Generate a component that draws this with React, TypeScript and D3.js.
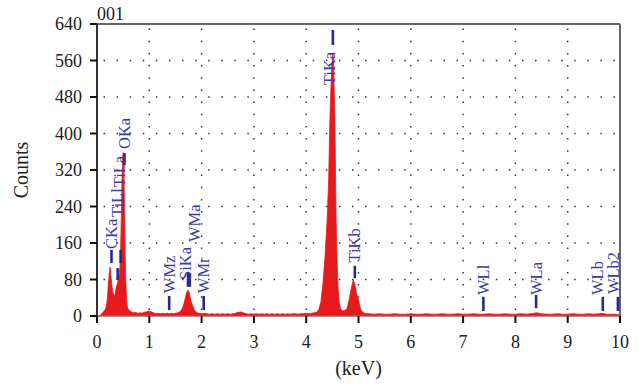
import React from 'react';
import * as d3 from 'd3';

// spectrum (keV, counts)
const energy = [
  0.0, 0.05, 0.07, 0.1, 0.12, 0.14, 0.16, 0.18, 0.2, 0.22, 0.24, 0.25, 0.26, 0.27, 0.28, 0.29,
  0.3, 0.31, 0.32, 0.33, 0.34, 0.35, 0.36, 0.37, 0.38, 0.39, 0.4, 0.41, 0.42, 0.43, 0.44, 0.45,
  0.46, 0.47, 0.48, 0.49, 0.5, 0.51, 0.52, 0.53, 0.54, 0.55, 0.56, 0.57, 0.58, 0.6, 0.62, 0.66,
  0.7, 0.74, 0.78, 0.82, 0.86, 0.9, 0.94, 0.98, 1.02, 1.06, 1.1, 1.14, 1.18, 1.22, 1.26, 1.3,
  1.34, 1.38, 1.42, 1.46, 1.5, 1.54, 1.58, 1.62, 1.65, 1.68, 1.71, 1.74, 1.76, 1.78, 1.8, 1.83,
  1.86, 1.89, 1.92, 1.96, 2.0, 2.05, 2.1, 2.15, 2.2, 2.25, 2.3, 2.35, 2.4, 2.45, 2.5, 2.55,
  2.6, 2.65, 2.7, 2.75, 2.8, 2.85, 2.9, 2.95, 3.0, 3.05, 3.1, 3.15, 3.2, 3.25, 3.3, 3.35,
  3.4, 3.45, 3.5, 3.55, 3.6, 3.65, 3.7, 3.75, 3.8, 3.85, 3.9, 3.95, 4.0, 4.05, 4.1, 4.15,
  4.2, 4.24, 4.28, 4.32, 4.36, 4.4, 4.43, 4.45, 4.47, 4.49, 4.51, 4.52, 4.53, 4.55, 4.57, 4.59,
  4.61, 4.63, 4.66, 4.7, 4.74, 4.78, 4.82, 4.86, 4.9, 4.93, 4.96, 5.0, 5.04, 5.08, 5.12, 5.2,
  5.3, 5.4, 5.5, 5.6, 5.7, 5.8, 5.9, 6.0, 6.1, 6.2, 6.3, 6.4, 6.5, 6.6, 6.7, 6.8,
  6.9, 7.0, 7.1, 7.2, 7.3, 7.4, 7.5, 7.6, 7.7, 7.8, 7.9, 8.0, 8.1, 8.2, 8.3, 8.35,
  8.4, 8.45, 8.5, 8.6, 8.7, 8.8, 8.9, 9.0, 9.1, 9.2, 9.3, 9.4, 9.5, 9.6, 9.65, 9.7,
  9.75, 9.8, 9.9, 10.0,
];
const counts = [
  0, 0, 3, 6, 9, 12, 15, 22, 40, 75, 100, 107, 104, 85, 70, 62,
  55, 50, 46, 44, 45, 50, 58, 64, 68, 72, 75, 80, 88, 95, 110, 140,
  190, 250, 310, 345, 358, 340, 280, 200, 130, 80, 50, 30, 20, 14, 12, 9,
  7, 8, 6, 7, 6, 8, 9, 11, 10, 8, 6, 5, 6, 5, 6, 5,
  6, 5, 6, 5, 6, 7, 9, 14, 22, 35, 50, 57, 52, 42, 32, 22,
  14, 9, 7, 6, 5, 6, 5, 4, 5, 4, 5, 4, 5, 4, 5, 4,
  5, 6, 8, 9, 7, 5, 4, 5, 4, 5, 4, 5, 4, 5, 4, 5,
  4, 5, 4, 5, 4, 5, 4, 5, 5, 4, 5, 5, 6, 5, 6, 7,
  8, 14, 30, 70, 130, 210, 300, 420, 490, 550, 575, 565, 520, 420, 220, 120,
  60, 30, 15, 11, 12, 16, 35, 60, 79, 70, 50, 35, 15, 8, 6, 5,
  4, 5, 4, 4, 5, 4, 4, 5, 4, 4, 5, 4, 4, 5, 4, 4,
  5, 4, 4, 5, 4, 4, 5, 4, 4, 5, 4, 4, 5, 4, 5, 6,
  7, 6, 5, 4, 4, 5, 4, 4, 5, 4, 4, 5, 4, 5, 6, 5,
  4, 4, 4, 3,
];

// line markers: name, energy, marker top/bottom (counts), label start (counts), label x shift (px)
const lineNames = ['CKa', 'TiLl', 'TiLa', 'OKa', 'WMz', 'SiKa', 'WMa', 'WMr', 'TiKa', 'TiKb', 'WLl', 'WLa', 'WLb', 'WLb2'];
const lineEnergy = [0.277, 0.395, 0.452, 0.525, 1.38, 1.74, 1.775, 2.04, 4.51, 4.93, 7.387, 8.396, 9.671, 9.96];
const markTop = [145, 105, 145, 357, 44, 94, 94, 44, 627, 110, 42, 46, 42, 42];
const markBottom = [116, 79, 116, 331, 13, 64, 64, 13, 594, 83, 11, 17, 11, 11];
const labelStart = [147, 217, 282, 366, 50, 79, 162, 50, 506, 117, 46, 46, 46, 48];
const labelShift = [0, 0, -1, 0, 0, -3, 5, 0, -3, 0, 0, 0, -5, -4];

const yTicks = [0, 80, 160, 240, 320, 400, 480, 560, 640];
const xTicks = [0, 1, 2, 3, 4, 5, 6, 7, 8, 9, 10];

const W = 639;
const H = 387;
const margin = { top: 24, right: 19, bottom: 71, left: 97 };
const font = '"Liberation Serif", "DejaVu Serif", serif';

export default function App() {
  const width = W - margin.left - margin.right;
  const height = H - margin.top - margin.bottom;

  const x = d3.scaleLinear().domain([0, 10]).range([0, width]);
  const y = d3.scaleLinear().domain([0, 640]).range([height, 0]);

  const pts = energy.map((e, i) => [e, counts[i]] as [number, number]);
  const area = d3
    .area<[number, number]>()
    .x(d => x(d[0]))
    .y0(y(0))
    .y1(d => y(d[1]));

  const hStep = x(0.25) - x(0);
  const vStep = y(0) - y(80 / 3);

  return (
    <div style={{ position: 'fixed', left: 0, top: 0 }}>
      <svg width={W} height={H} style={{ display: 'block', background: '#fff' }}>
        <g transform={`translate(${margin.left},${margin.top})`}>
          {/* dotted grid */}
          {yTicks.slice(1, -1).map(t => (
            <line key={'h' + t} x1={0} x2={width} y1={y(t)} y2={y(t)}
              stroke="#333" strokeWidth={1.5} strokeDasharray={`1.5 ${hStep - 1.5}`} strokeDashoffset={-hStep / 2} />
          ))}
          {xTicks.slice(1, -1).map(t => (
            <line key={'v' + t} x1={x(t)} x2={x(t)} y1={height} y2={0}
              stroke="#333" strokeWidth={1.5} strokeDasharray={`1.5 ${vStep - 1.5}`} strokeDashoffset={-vStep / 2} />
          ))}

          {/* spectrum */}
          <path d={area(pts) || ''} fill="#e41a1c" stroke="#e41a1c" strokeWidth={0.8} />

          {/* frame */}
          <line x1={0} x2={width} y1={0} y2={0} stroke="#666" strokeWidth={2} />
          <line x1={width} x2={width} y1={0} y2={height} stroke="#666" strokeWidth={2} />
          <line x1={0} x2={width} y1={height} y2={height} stroke="#777" strokeWidth={1.2} />
          <line x1={0} x2={0} y1={0} y2={height} stroke="#333" strokeWidth={2} />

          {/* y axis */}
          {yTicks.map(t => (
            <g key={'yt' + t} transform={`translate(0,${y(t)})`}>
              <line x1={-7} x2={0} stroke="#111" strokeWidth={2} />
              <text x={-15} dy="0.34em" textAnchor="end" fontFamily={font} fontSize={18} fill="#222">{t}</text>
            </g>
          ))}

          {/* x axis */}
          {xTicks.map(t => (
            <g key={'xt' + t} transform={`translate(${x(t)},${height})`}>
              <line y1={0} y2={7} stroke="#111" strokeWidth={2} />
              <text y={32} textAnchor="middle" fontFamily={font} fontSize={18} fill="#222">{t}</text>
            </g>
          ))}

          {/* line markers */}
          {lineNames.map((n, i) => (
            <line key={'m' + n} x1={x(lineEnergy[i])} x2={x(lineEnergy[i])} y1={y(markTop[i])} y2={y(markBottom[i])}
              stroke="#262a88" strokeWidth={2.6} />
          ))}
          {lineNames.map((n, i) => (
            <text key={'l' + n}
              transform={`translate(${x(lineEnergy[i]) + labelShift[i] + 5.5},${y(labelStart[i])}) rotate(-90)`}
              fontFamily={font} fontSize={16.5} fill="#3a3e9e">{n}</text>
          ))}

          <text x={0} y={-4} fontFamily={font} fontSize={18} fill="#222">001</text>
        </g>

        <text transform={`translate(28,${margin.top + height / 2}) rotate(-90)`} textAnchor="middle"
          fontFamily={font} fontSize={20} fill="#222">Counts</text>
        <text x={margin.left + width / 2} y={375} textAnchor="middle" fontFamily={font} fontSize={20} fill="#222">(keV)</text>
      </svg>
    </div>
  );
}
